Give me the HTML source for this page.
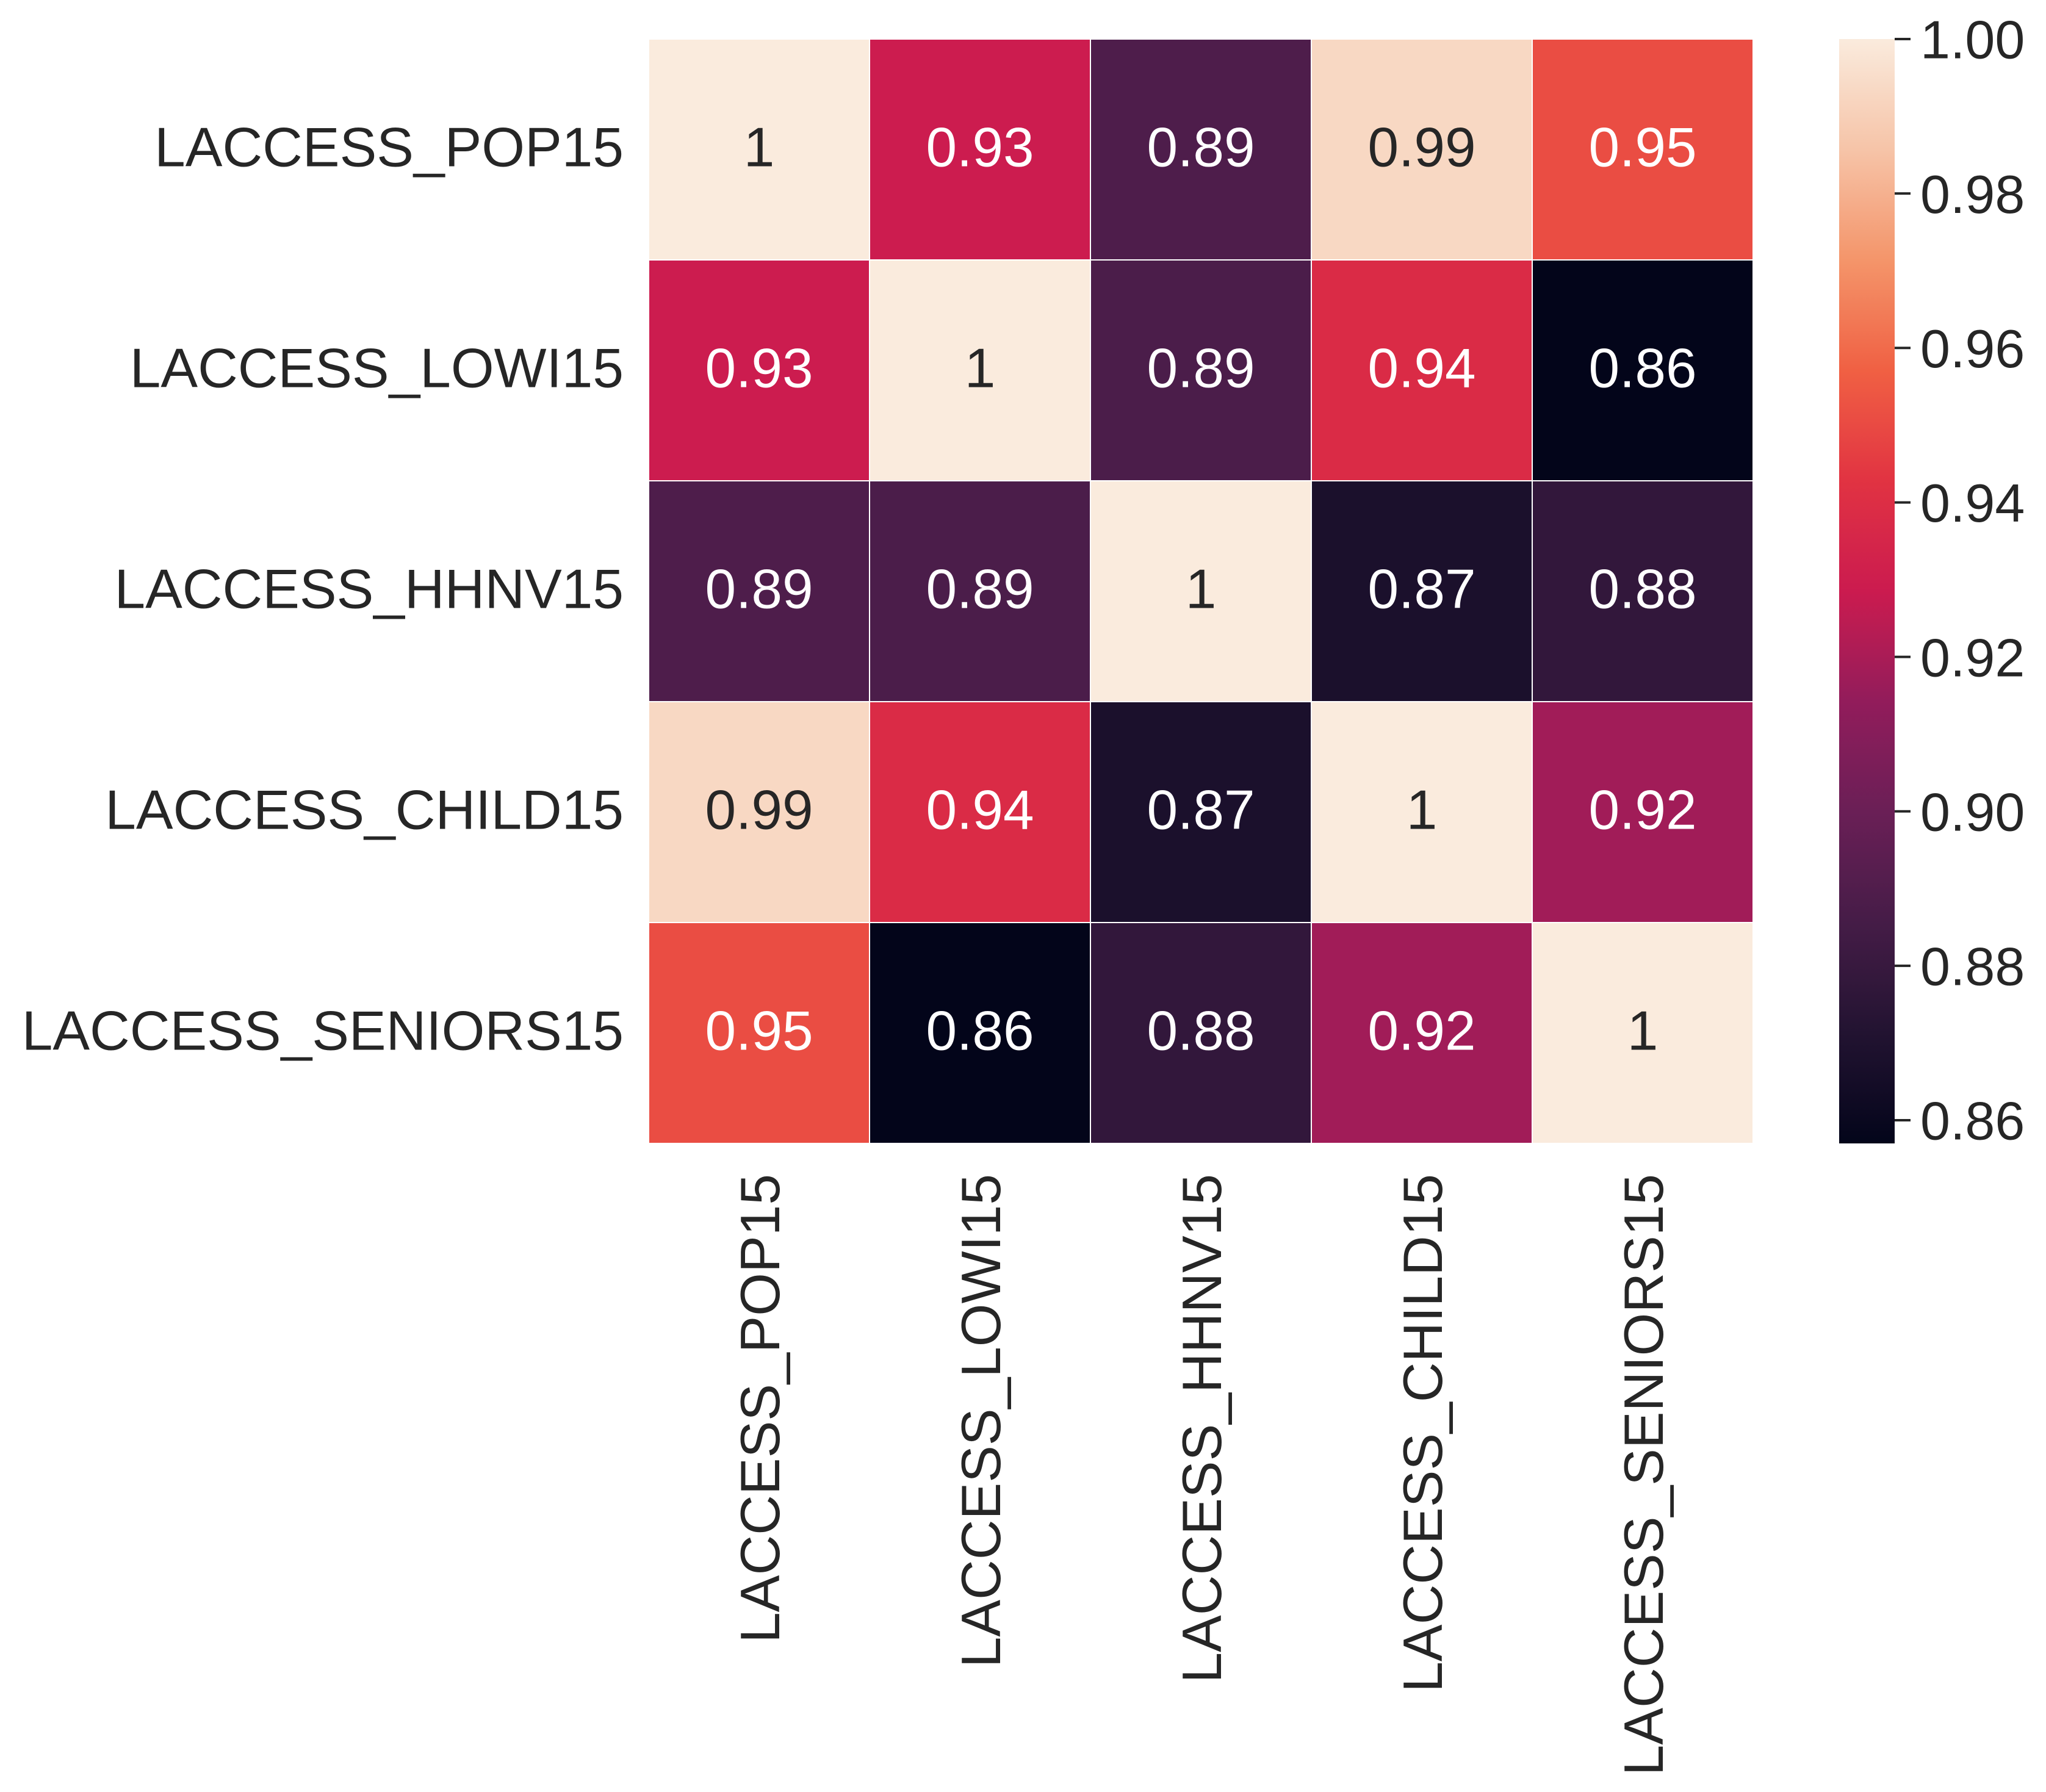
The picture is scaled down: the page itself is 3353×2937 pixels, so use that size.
<!DOCTYPE html>
<html><head><meta charset="utf-8"><style>
html,body{margin:0;padding:0;background:#fff;}
svg{display:block;font-family:"Liberation Sans",Arial,sans-serif;}
</style></head><body>
<svg id="chart" xmlns="http://www.w3.org/2000/svg" width="3353" height="2937" viewBox="0 0 3353 2937">
<g id="cells"></g>
<g id="ylabels"></g>
<g id="xlabels"></g>
<defs><linearGradient id="cbgrad" x1="0" y1="1" x2="0" y2="0"></linearGradient></defs>
<g id="colorbar"></g>
</svg>
<script>
const categories = ["LACCESS_POP15","LACCESS_LOWI15","LACCESS_HHNV15","LACCESS_CHILD15","LACCESS_SENIORS15"];
const row0 = [1, 0.929, 0.889, 0.993, 0.951];
const row1 = [0.929, 1, 0.888, 0.938, 0.857];
const row2 = [0.889, 0.888, 1, 0.868, 0.878];
const row3 = [0.993, 0.938, 0.868, 1, 0.918];
const row4 = [0.951, 0.857, 0.878, 0.918, 1];
const matrix = [row0,row1,row2,row3,row4];
const cbTicks = [0.86,0.88,0.90,0.92,0.94,0.96,0.98,1.00];
const vmin = 0.857, vmax = 1.0;

const NS="http://www.w3.org/2000/svg";
const L=1063, T=64, S=1810, n=categories.length, cw=S/n;
const FS=91, CFS=88;
const stops=[[0,"#03051a"],[0.1,"#221331"],[0.2,"#451c47"],[0.3,"#6a1f56"],[0.4,"#921c5b"],[0.5,"#cb1b4f"],[0.6,"#e13342"],[0.7,"#f06043"],[0.8,"#f4956a"],[0.9,"#f6c4a8"],[1,"#faebdd"]];
function hex(h){return [1,3,5].map(i=>parseInt(h.substr(i,2),16));}
function cmap(t){t=Math.max(0,Math.min(1,t));for(let i=1;i<stops.length;i++){if(t<=stops[i][0]){const a=stops[i-1],b=stops[i];const f=(t-a[0])/(b[0]-a[0]);const c1=hex(a[1]),c2=hex(b[1]);return "rgb("+c1.map((c,k)=>Math.round(c+(c2[k]-c)*f)).join(",")+")";}}return stops[stops.length-1][1];}
function norm(v){return (v-vmin)/(vmax-vmin);}
function xPos(i){return L+i*cw;}
function yPos(j){return T+j*cw;}
function mk(tag,attrs,parent){const e=document.createElementNS(NS,tag);for(const k in attrs)e.setAttribute(k,attrs[k]);parent.appendChild(e);return e;}

const cells=document.getElementById('cells');
matrix.forEach((row,j)=>row.forEach((v,i)=>{
  const r=mk('rect',{x:xPos(i),y:yPos(j),width:cw,height:cw,fill:cmap(norm(v)),stroke:"#fff","stroke-width":2},cells);
  
  
  const t=mk('text',{x:xPos(i)+cw/2,y:yPos(j)+cw/2+FS*0.30,"text-anchor":"middle","font-size":FS,fill:norm(v)>0.8?"#262626":"#ffffff"},cells);
  t.textContent=String(Number(v.toFixed(2)));
  
  
}));
const yl=document.getElementById('ylabels');
categories.forEach((c,j)=>{
  const t=mk('text',{x:1022,y:yPos(j)+cw/2+FS*0.30,"text-anchor":"end","font-size":FS,fill:"#262626"},yl);
  t.textContent=c;
  
  
});
const xl=document.getElementById('xlabels');
categories.forEach((c,i)=>{
  const cx=xPos(i)+cw/2+FS*0.36, cy=1924;
  const t=mk('text',{x:cx,y:cy,"text-anchor":"end","font-size":FS,fill:"#262626",transform:"rotate(-90 "+cx+" "+cy+")"},xl);
  t.textContent=c;
  
  
});
const grad=document.getElementById('cbgrad');
for(let k=0;k<=20;k++){mk('stop',{offset:(k/20),"stop-color":cmap(k/20)},grad);}
const cb=document.getElementById('colorbar');
const cbx=3014,cbw=91,cbT=64,cbB=1874;
const bar=mk('rect',{x:cbx,y:cbT,width:cbw,height:cbB-cbT,fill:"url(#cbgrad)"},cb);


function cbY(v){return cbB-norm(v)*(cbB-cbT);}
cbTicks.forEach(v=>{
  const y=cbY(v);
  const l=mk('line',{x1:cbx+cbw,x2:cbx+cbw+26,y1:y,y2:y,stroke:"#262626","stroke-width":4},cb);
  
  
  const t=mk('text',{x:3147,y:y+CFS*0.36,"font-size":CFS,fill:"#262626"},cb);
  t.textContent=v.toFixed(2);
  
  
});
</script>
</body></html>
